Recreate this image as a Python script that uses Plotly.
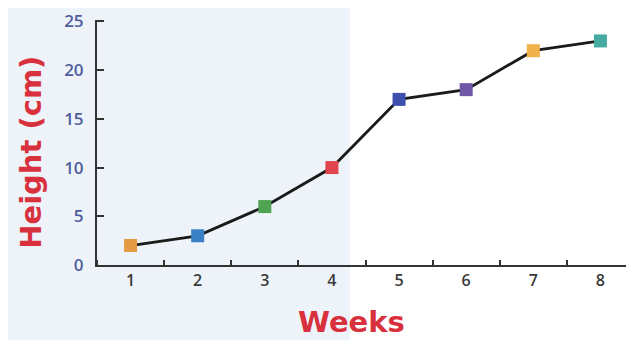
import plotly.graph_objects as go

weeks = [1, 2, 3, 4, 5, 6, 7, 8]
height_cm = [2, 3, 6, 10, 17, 18, 22, 23]
marker_colors = ["#e49a45", "#3a80c4", "#4fa353", "#e0444c", "#3f4fae", "#6f58a6", "#f0b04a", "#45aaa0"]
y_ticks = [0, 5, 10, 15, 20, 25]

fig = go.Figure()
fig.add_trace(go.Scatter(
    x=weeks, y=height_cm, mode="lines+markers",
    line=dict(color="#1a1a1a", width=2.8),
    marker=dict(symbol="square", size=13, color=marker_colors, line=dict(width=0)),
    hoverinfo="skip", showlegend=False,
))

fig.add_shape(type="rect", xref="paper", yref="paper",
              x0=-0.2, x1=0.471, y0=-0.4, y1=1.1,
              fillcolor="#eef3f9", line=dict(width=0), layer="below")

title_font = "DejaVu Sans, Open Sans, Arial, sans-serif"
fig.add_annotation(text="<b>Weeks</b>", xref="paper", yref="paper",
                   x=0.473, y=-0.2327, xanchor="center", yanchor="middle",
                   showarrow=False, font=dict(size=29, color="#d8303c", family=title_font))
fig.add_annotation(text="<b>Height (cm)</b>", xref="paper", yref="paper",
                   x=-0.122, y=0.46, xanchor="center", yanchor="middle", textangle=-90,
                   showarrow=False, font=dict(size=29, color="#d8303c", family=title_font))

fig.update_layout(
    width=634, height=340,
    margin=dict(l=89, r=8, t=12, b=83, autoexpand=False),
    paper_bgcolor="white", plot_bgcolor="rgba(0,0,0,0)",
    font=dict(family="Open Sans, Arial, sans-serif"),
    xaxis=dict(
        range=[0.5, 8.5], tickvals=weeks, ticktext=[str(w) for w in weeks],
        ticks="", showgrid=False, zeroline=False, automargin=False,
        showline=True, linecolor="#333333", linewidth=2,
        tickfont=dict(size=16, color="#3a3a3a", weight=600),
        minor=dict(ticks="inside", tick0=0.5, dtick=1, ticklen=5, tickwidth=2, tickcolor="#333333"),
    ),
    yaxis=dict(
        range=[0, 25.15], tickvals=y_ticks, ticks="inside", ticklen=7, tickwidth=2,
        tickcolor="#333333", showgrid=False, zeroline=False, automargin=False,
        showline=True, linecolor="#333333", linewidth=2,
        ticklabelstandoff=8, ticklabeloverflow="allow",
        tickfont=dict(size=17, color="#4f5d9c", weight=600),
    ),
)

fig.write_html("out.html")
